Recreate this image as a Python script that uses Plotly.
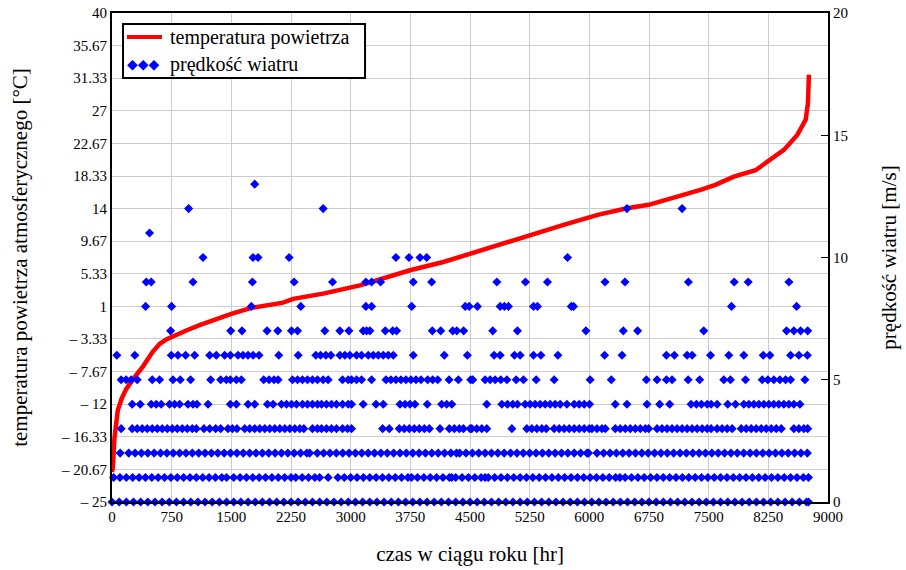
import plotly.graph_objects as go

# ---------------- data ----------------
# Air temperature duration curve (hours sorted by temperature)
temp_hours = [0, 10, 31, 73, 120, 178, 262, 388, 514, 598, 682, 800, 934, 1100, 1312,
              1500, 1752, 2150, 2277, 2654, 3116, 3746, 4165, 4501, 4857, 5278, 5697,
              6117, 6473, 6746, 7166, 7397, 7585, 7816, 8089, 8236, 8446, 8614, 8719,
              8748, 8760]
temp_values = [-21.0, -20.5, -16.5, -12.8, -11.3, -10.0, -8.7, -7.0, -5.0, -4.0, -3.4,
               -2.8, -2.2, -1.5, -0.7, 0.0, 0.8, 1.5, 2.0, 2.7, 3.8, 5.8, 6.9, 8.0, 9.3,
               10.6, 11.9, 13.2, 14.05, 14.5, 15.7, 16.5, 17.15, 18.25, 19.1, 20.25,
               21.8, 23.8, 25.8, 28.0, 31.8]

# Wind speed: hours at which each wind-speed level [m/s] occurs
wind_h0 = [0, 90, 180, 270, 360, 450, 540, 630, 720, 810, 900, 990, 1080, 1170, 1260,
           1350, 1440, 1530, 1620, 1710, 1800, 1890, 1980, 2070, 2160, 2250, 2340, 2430,
           2520, 2610, 2700, 2790, 2880, 2970, 3060, 3150, 3240, 3330, 3420, 3510, 3600,
           3690, 3780, 3870, 3960, 4050, 4140, 4230, 4320, 4410, 4500, 4590, 4680, 4770,
           4860, 4950, 5040, 5130, 5220, 5310, 5400, 5490, 5580, 5670, 5760, 5850, 5940,
           6030, 6120, 6210, 6300, 6390, 6480, 6570, 6660, 6750, 6840, 6930, 7020, 7110,
           7200, 7290, 7380, 7470, 7560, 7650, 7740, 7830, 7920, 8010, 8100, 8190, 8280,
           8370, 8460, 8550, 8640, 8730, 8755]
wind_h1 = [20, 100, 180, 260, 340, 420, 500, 580, 660, 740, 820, 900, 980, 1060, 1140,
           1220, 1300, 1380, 1440, 1530, 1610, 1690, 1770, 1850, 1930, 2010, 2090, 2170,
           2250, 2310, 2390, 2470, 2550, 2610, 2717, 2840, 2920, 3000, 3080, 3160, 3240,
           3320, 3400, 3480, 3560, 3640, 3720, 3765, 3840, 3920, 4000, 4080, 4160, 4240,
           4270, 4320, 4400, 4480, 4560, 4640, 4690, 4730, 4810, 4890, 4970, 5050, 5130,
           5210, 5290, 5370, 5450, 5530, 5610, 5690, 5770, 5850, 5930, 6010, 6090, 6170,
           6250, 6330, 6385, 6450, 6530, 6610, 6690, 6770, 6850, 6930, 7010, 7090, 7170,
           7250, 7330, 7410, 7490, 7570, 7650, 7730, 7810, 7890, 7970, 8050, 8130, 8210,
           8290, 8370, 8450, 8530, 8610, 8690, 8755]
wind_h2 = [103, 210, 290, 370, 450, 530, 610, 690, 770, 850, 930, 1010, 1090, 1170, 1250,
           1330, 1410, 1490, 1570, 1650, 1730, 1810, 1890, 1970, 2050, 2130, 2210, 2290,
           2370, 2450, 2485, 2580, 2660, 2740, 2820, 2900, 2980, 3060, 3140, 3220, 3300,
           3380, 3460, 3540, 3620, 3700, 3780, 3860, 3940, 4020, 4100, 4180, 4260, 4330,
           4370, 4450, 4530, 4610, 4690, 4770, 4850, 4930, 5010, 5090, 5170, 5250, 5330,
           5410, 5490, 5570, 5650, 5730, 5810, 5890, 5970, 5990, 6096, 6180, 6260, 6340,
           6420, 6500, 6580, 6660, 6740, 6820, 6900, 6980, 7060, 7140, 7220, 7300, 7380,
           7460, 7540, 7620, 7700, 7780, 7860, 7940, 8020, 8100, 8180, 8260, 8340, 8420,
           8500, 8580, 8660, 8740]
wind_h3 = [115, 254, 317, 380, 443, 506, 569, 632, 695, 758, 820, 883, 946, 1009, 1060,
           1156, 1228, 1303, 1366, 1458, 1513, 1571, 1668, 1731, 1794, 1857, 1920, 1983,
           2046, 2109, 2172, 2235, 2298, 2361, 2411, 2520, 2583, 2634, 2696, 2759, 2822,
           2898, 2961, 3011, 3402, 3485, 3611, 3674, 3737, 3800, 3863, 3926, 3989, 4123,
           4240, 4303, 4366, 4417, 4501, 4522, 4585, 4648, 4711, 5026, 5214, 5277, 5340,
           5403, 5458, 5558, 5621, 5684, 5747, 5810, 5873, 5936, 5999, 6033, 6096, 6159,
           6201, 6326, 6389, 6452, 6515, 6578, 6641, 6704, 6746, 6851, 6914, 6977, 7040,
           7103, 7166, 7229, 7292, 7355, 7418, 7481, 7531, 7606, 7669, 7732, 7795, 7909,
           7972, 8035, 8098, 8161, 8224, 8287, 8350, 8413, 8571, 8634, 8697, 8745]
wind_h4 = [254, 355, 493, 556, 619, 724, 787, 850, 955, 1018, 1068, 1207, 1488, 1563,
           1710, 1794, 1954, 2025, 2130, 2193, 2256, 2319, 2394, 2457, 2520, 2583, 2634,
           2696, 2759, 2822, 2898, 2969, 3011, 3158, 3318, 3410, 3620, 3683, 3745, 3808,
           3963, 4144, 4207, 4271, 4711, 4900, 4971, 5038, 5096, 5193, 5256, 5319, 5382,
           5445, 5508, 5571, 5634, 5718, 5810, 5873, 5936, 6003, 6326, 6473, 6725, 6884,
           7010, 7279, 7346, 7409, 7481, 7531, 7606, 7740, 7837, 7942, 8005, 8068, 8131,
           8194, 8257, 8319, 8382, 8445, 8508, 8571, 8647]
wind_h5 = [115, 178, 241, 317, 506, 598, 766, 858, 988, 1240, 1366, 1437, 1488, 1563,
           1626, 1907, 1974, 2037, 2088, 2269, 2332, 2394, 2457, 2520, 2583, 2654, 2717,
           2898, 2969, 3011, 3074, 3137, 3263, 3444, 3506, 3569, 3632, 3695, 3758, 3821,
           3884, 3968, 4031, 4094, 4237, 4354, 4509, 4535, 4690, 4753, 4816, 4887, 4963,
           5080, 5172, 5332, 5558, 6010, 6276, 6717, 6851, 6969, 7040, 7242, 7387, 7690,
           7774, 7963, 8173, 8244, 8319, 8395, 8467, 8530, 8710]
wind_h6 = [61, 287, 745, 829, 925, 1039, 1228, 1311, 1416, 1488, 1584, 1647, 1710, 1773,
           1848, 2096, 2340, 2562, 2621, 2688, 2751, 2864, 2927, 2990, 3074, 3137, 3221,
           3284, 3347, 3410, 3473, 3536, 3787, 4177, 4467, 4803, 4879, 5059, 5130, 5298,
           5391, 5605, 6192, 6411, 6969, 7069, 7229, 7292, 7523, 7753, 7942, 8186, 8270,
           8530, 8634, 8740]
wind_h7 = [737, 1492, 1634, 1949, 2084, 2256, 2332, 2675, 2864, 2978, 3158, 3200, 3242,
           3435, 3528, 3578, 4026, 4132, 4283, 4334, 4420, 4786, 5096, 5957, 6427, 6607,
           7438, 8479, 8571, 8656, 8745]
wind_h8 = [422, 749, 1752, 2373, 3191, 3263, 3767, 4440, 4490, 4593, 4879, 4932, 4983,
           5298, 5348, 5773, 5802, 7787, 8605]
wind_h9 = [431, 493, 1018, 1765, 2289, 2772, 3191, 3263, 3376, 3787, 4018, 4837, 5197,
           5474, 6197, 6448, 7245, 7821, 7997, 8509]
wind_h10 = [1144, 1773, 1836, 2226, 3569, 3733, 3871, 3956, 5726]
wind_h11 = [472]
wind_h12 = [963, 2654, 6473, 7166]
wind_h13 = [1794]

x_ticks = [0, 750, 1500, 2250, 3000, 3750, 4500, 5250, 6000, 6750, 7500, 8250, 9000]
t_ticks = [-25, -20.67, -16.33, -12, -7.67, -3.33, 1, 5.33, 9.67, 14, 18.33, 22.67,
           27, 31.33, 35.67, 40]
t_tick_text = ["\u2013 25", "\u2013 20.67", "\u2013 16.33", "\u2013 12", "\u2013 7.67",
               "\u2013 3.33", "1", "5.33", "9.67", "14", "18.33", "22.67", "27",
               "31.33", "35.67", "40"]
w_ticks = [0, 5, 10, 15, 20]
legend_names = ["temperatura powietrza", "prędkość wiatru"]

# ---------------- build figure ----------------
levels = [wind_h0, wind_h1, wind_h2, wind_h3, wind_h4, wind_h5, wind_h6, wind_h7,
          wind_h8, wind_h9, wind_h10, wind_h11, wind_h12, wind_h13]
wx, wy = [], []
for speed, hrs in enumerate(levels):
    wx.extend(hrs)
    wy.extend([speed] * len(hrs))

FONT = "'Liberation Serif', 'Times New Roman', serif"
RED = "#ff0000"
BLUE = "#0000ff"

fig = go.Figure()
fig.add_trace(go.Scatter(
    x=temp_hours, y=temp_values, mode="lines", name=legend_names[0],
    line=dict(color=RED, width=4.5), showlegend=False))
fig.add_trace(go.Scatter(
    x=wx, y=wy, yaxis="y2", mode="markers", name=legend_names[1],
    marker=dict(symbol="diamond", size=7, color=BLUE, line=dict(width=0)),
    cliponaxis=False, showlegend=False))

# boxed legend drawn in the plot's top-left corner (paper coordinates)
fig.add_shape(type="rect", xref="paper", yref="paper", x0=0.0154, x1=0.3534,
              y0=0.8671, y1=0.9775, line=dict(color="black", width=2),
              fillcolor="white", layer="above")
fig.add_shape(type="line", xref="paper", yref="paper", x0=0.0209, x1=0.0698,
              y0=0.9509, y1=0.9509, line=dict(color=RED, width=4), layer="above")
fig.add_annotation(xref="paper", yref="paper", x=0.0782, y=0.9509, xanchor="left",
                   yanchor="middle", text=legend_names[0], showarrow=False,
                   font=dict(family=FONT, size=20, color="black"))
fig.add_annotation(xref="paper", yref="paper", x=0.0438, y=0.8957, xanchor="center",
                   yanchor="middle", text="\u25c6\u25c6\u25c6", showarrow=False,
                   font=dict(family="DejaVu Sans", size=14, color=BLUE))
fig.add_annotation(xref="paper", yref="paper", x=0.0782, y=0.8957, xanchor="left",
                   yanchor="middle", text=legend_names[1], showarrow=False,
                   font=dict(family=FONT, size=20, color="black"))

fig.update_layout(
    width=906, height=570,
    margin=dict(l=112, r=78, t=13, b=68, autoexpand=False),
    paper_bgcolor="white", plot_bgcolor="white",
    font=dict(family=FONT, size=15, color="black"),
    showlegend=False,
    xaxis=dict(range=[0, 9000], tickvals=x_ticks, ticktext=[str(v) for v in x_ticks],
               showgrid=True, gridcolor="#cccccc", gridwidth=1, zeroline=False,
               showline=True, linecolor="black", linewidth=2, mirror=True,
               ticks="", automargin=False, ticklabeloverflow="allow",
               tickfont=dict(family=FONT, size=15),
               title=dict(text="czas w ciągu roku [hr]", standoff=22,
                          font=dict(family=FONT, size=21))),
    yaxis=dict(range=[-25, 40], tickvals=t_ticks, ticktext=t_tick_text,
               showgrid=True, gridcolor="#cccccc", gridwidth=1, zeroline=False,
               showline=True, linecolor="black", linewidth=2, mirror=True,
               ticks="", automargin=False, ticklabeloverflow="allow",
               tickfont=dict(family=FONT, size=15),
               title=dict(text="temperatura powietrza atmosferycznego [°C]",
                          standoff=28, font=dict(family=FONT, size=21))),
    yaxis2=dict(range=[0, 20], overlaying="y", side="right", tickvals=w_ticks,
                showgrid=False, zeroline=False, showline=True, linecolor="black",
                linewidth=2, ticks="inside", ticklen=7, tickcolor="black",
                automargin=False, ticklabeloverflow="allow",
                tickfont=dict(family=FONT, size=15),
                title=dict(text="prędkość wiatru [m/s]", standoff=34,
                           font=dict(family=FONT, size=21))),
)

# remove the browser's default 8 px page margin so the figure fills the window
fig.write_html("out.html",
               config={"displayModeBar": False},
               post_script="document.body.style.margin='0';"
                           "document.body.style.overflow='hidden';")
